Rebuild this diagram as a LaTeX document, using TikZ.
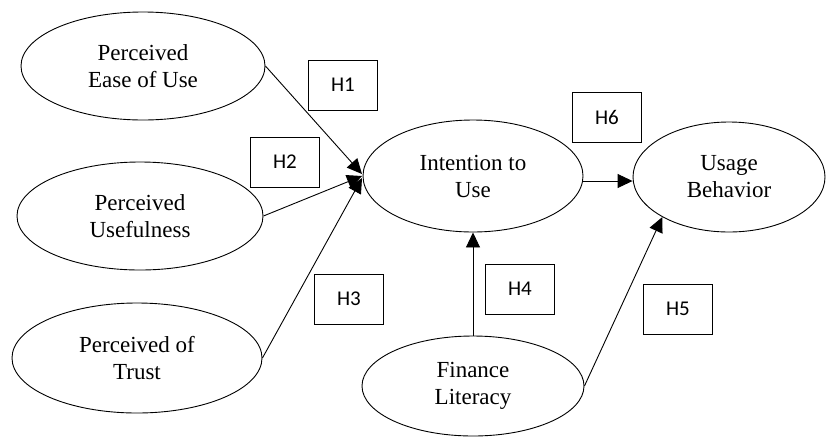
\documentclass[tikz,border=0pt]{standalone}
\usepackage{fontspec}
\setmainfont{Liberation Serif}
\newfontfamily\ellfont{Liberation Serif}
\newfontfamily\boxfont{Carlito}
\usetikzlibrary{shapes.geometric,arrows.meta}
\begin{document}
\begin{tikzpicture}[x=1pt,y=-1pt,
  construct/.style={ellipse,draw,line width=0.9pt,inner sep=0pt,align=center,
    font=\ellfont\fontsize{23}{27}\selectfont},
  hyp/.style={rectangle,draw,line width=0.9pt,minimum width=69pt,minimum height=50pt,
    inner sep=0pt,font=\boxfont\fontsize{21}{24}\selectfont},
  link/.style={line width=0.9pt,-{Triangle[length=15pt,width=14pt]}}]
\useasboundingbox (0,0) rectangle (827,440);
\node[construct,minimum width=244pt,minimum height=108pt] (peou) at (143,66) {Perceived\\Ease of Use};
\node[construct,minimum width=246pt,minimum height=108pt] (pu) at (140,216) {Perceived\\Usefulness};
\node[construct,minimum width=250pt,minimum height=110pt] (pt) at (137,358) {Perceived of\\Trust};
\node[construct,minimum width=220pt,minimum height=112pt] (itu) at (473,176) {Intention to\\Use};
\node[construct,minimum width=192pt,minimum height=110pt] (ub) at (729,177) {Usage\\Behavior};
\node[construct,minimum width=222pt,minimum height=100pt] (fl) at (473,386) {Finance\\Literacy};
\node[hyp] (h1) at (343,85) {H1};
\node[hyp] (h2) at (285,162) {H2};
\node[hyp] (h3) at (349,299) {H3};
\node[hyp] (h4) at (520,289) {H4};
\node[hyp] (h5) at (678,309) {H5};
\node[hyp] (h6) at (607,117) {H6};
\coordinate (t1) at (362,174);
\coordinate (t2) at (362,176);
\coordinate (t3) at (362,178);
\draw[link] (peou.east) -- (t1);
\draw[link] (pu.east) -- (t2);
\draw[link] (pt.east) -- (t3);
\draw[link] (itu.east |- 0,181) -- (ub.west |- 0,181);
\draw[link] (fl.north) -- (itu.south);
\draw[link] (fl.east) -- (ub.211);
\end{tikzpicture}
\end{document}
